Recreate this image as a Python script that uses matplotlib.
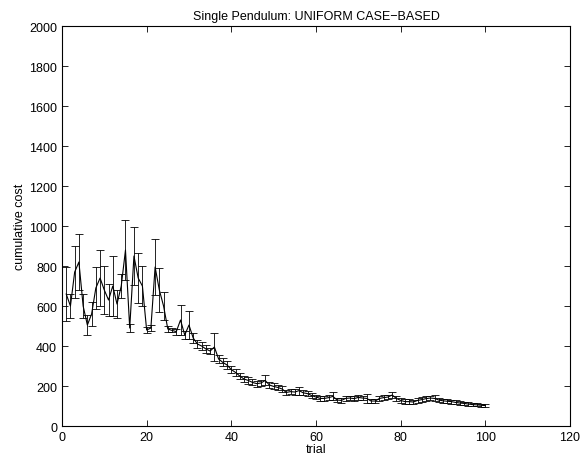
import matplotlib
matplotlib.use("Agg")
import matplotlib.pyplot as plt
import numpy as np

plt.rcParams['font.family'] = ['Liberation Sans', 'DejaVu Sans']

trial = np.arange(1, 101)
cost = [660, 600, 770, 820, 600, 505, 560, 690, 740, 680,
        630, 700, 610, 700, 880, 490, 850, 740, 700, 480,
        490, 795, 680, 600, 485, 478, 472, 530, 455, 505,
        440, 410, 400, 385, 375, 395, 335, 318, 305, 282,
        268, 250, 235, 228, 218, 212, 215, 228, 205, 198,
        193, 185, 168, 172, 170, 177, 166, 162, 152, 145,
        138, 138, 142, 148, 130, 128, 138, 140, 137, 143,
        140, 138, 125, 125, 138, 142, 145, 155, 138, 128,
        122, 122, 120, 128, 132, 137, 140, 138, 130, 126,
        124, 122, 118, 115, 113, 110, 107, 106, 104, 102]
err = [135, 60, 130, 140, 60, 50, 60, 105, 140, 120,
       80, 150, 70, 60, 150, 20, 145, 125, 100, 15,
       15, 140, 110, 70, 15, 10, 15, 75, 20, 70,
       25, 20, 20, 18, 15, 70, 20, 20, 18, 18,
       17, 17, 16, 16, 15, 15, 16, 25, 15, 15,
       14, 14, 13, 13, 14, 20, 13, 13, 12, 12,
       12, 12, 12, 20, 11, 11, 12, 12, 12, 13,
       12, 22, 11, 11, 12, 12, 12, 15, 12, 11,
       11, 11, 10, 11, 11, 11, 12, 15, 11, 10,
       10, 10, 10, 9, 9, 9, 8, 8, 8, 8]

fig = plt.figure(figsize=(5.83, 4.64), dpi=100)
ax = fig.add_axes([0.1063, 0.0797, 0.8714, 0.862])
ax.errorbar(trial, cost, yerr=err, color='black', linewidth=0.8,
            elinewidth=0.6, capsize=3, capthick=0.6)

ax.set_xlim(0, 120)
ax.set_ylim(0, 2000)
ax.set_xticks(range(0, 121, 20))
ax.set_yticks(range(0, 2001, 200))
ax.tick_params(direction='in', top=True, right=True, labelsize=9, length=4, width=0.6)
for s in ax.spines.values():
    s.set_linewidth(0.8)
ax.set_xlabel('trial', fontsize=9, labelpad=0)
ax.set_ylabel('cumulative cost', fontsize=9, labelpad=2)
ax.set_title('Single Pendulum: UNIFORM CASE\u2212BASED', fontsize=9, pad=5)

fig.savefig('out.png', dpi=100)
